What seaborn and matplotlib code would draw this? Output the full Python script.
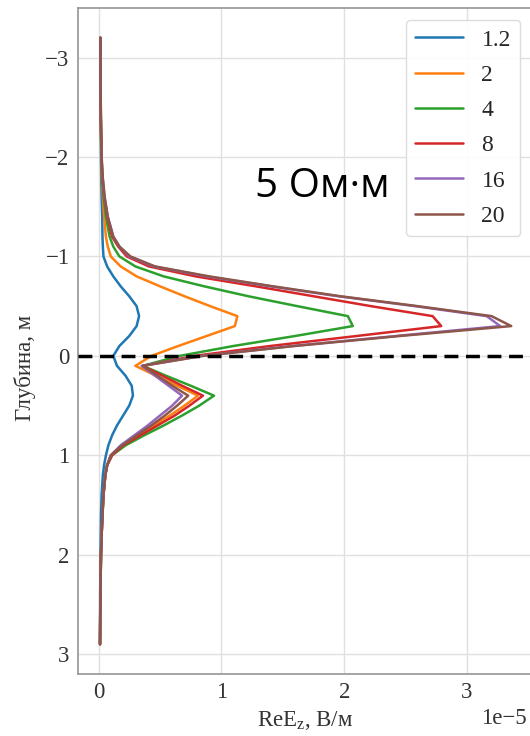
import matplotlib
matplotlib.use("Agg")
import matplotlib.pyplot as plt
import numpy as np
import pandas as pd
import seaborn as sns

# Depth grid (m), negative = above the source
depth = [-3.2, -2.8, -2.4, -2.0, -1.8, -1.6, -1.4, -1.2, -1.1, -1.0,
         -0.9, -0.8, -0.7, -0.6, -0.5, -0.4, -0.3, -0.2, -0.1, 0.0,
         0.1, 0.2, 0.3, 0.4, 0.5, 0.6, 0.7, 0.8, 0.9, 1.0,
         1.1, 1.2, 1.4, 1.6, 1.8, 2.0, 2.4, 2.9]

# Re Ez, units of 1e-5 V/m, one profile per resistivity value
ez_1_2 = [0.015, 0.016, 0.018, 0.02, 0.022, 0.025, 0.03, 0.032, 0.035, 0.04,
          0.07, 0.12, 0.18, 0.25, 0.31, 0.33, 0.31, 0.25, 0.17, 0.12,
          0.15, 0.22, 0.27, 0.28, 0.25, 0.20, 0.15, 0.11, 0.08, 0.06,
          0.045, 0.035, 0.025, 0.02, 0.018, 0.016, 0.013, 0.012]
ez_2 = [0.015, 0.016, 0.018, 0.022, 0.027, 0.035, 0.045, 0.06, 0.075, 0.10,
        0.18, 0.31, 0.50, 0.70, 0.91, 1.13, 1.11, 0.88, 0.65, 0.43,
        0.30, 0.47, 0.64, 0.81, 0.70, 0.58, 0.45, 0.32, 0.19, 0.10,
        0.07, 0.055, 0.04, 0.032, 0.025, 0.02, 0.015, 0.012]
ez_4 = [0.015, 0.016, 0.018, 0.023, 0.029, 0.04, 0.06, 0.09, 0.12, 0.17,
        0.30, 0.53, 0.86, 1.22, 1.62, 2.03, 2.07, 1.60, 1.10, 0.66,
        0.36, 0.55, 0.75, 0.94, 0.82, 0.68, 0.53, 0.37, 0.22, 0.11,
        0.07, 0.055, 0.04, 0.032, 0.025, 0.02, 0.015, 0.012]
ez_8 = [0.015, 0.016, 0.019, 0.024, 0.031, 0.045, 0.07, 0.11, 0.16, 0.23,
        0.41, 0.79, 1.28, 1.75, 2.22, 2.72, 2.79, 2.10, 1.40, 0.78,
        0.36, 0.52, 0.68, 0.85, 0.74, 0.62, 0.48, 0.34, 0.20, 0.11,
        0.07, 0.055, 0.04, 0.032, 0.025, 0.02, 0.015, 0.012]
ez_16 = [0.015, 0.016, 0.019, 0.025, 0.033, 0.048, 0.075, 0.12, 0.17, 0.25,
         0.45, 0.88, 1.40, 1.95, 2.58, 3.16, 3.27, 2.42, 1.58, 0.84,
         0.35, 0.46, 0.57, 0.68, 0.60, 0.50, 0.40, 0.29, 0.18, 0.10,
         0.07, 0.055, 0.04, 0.032, 0.025, 0.02, 0.015, 0.012]
ez_20 = [0.015, 0.016, 0.019, 0.025, 0.034, 0.05, 0.075, 0.12, 0.17, 0.26,
         0.46, 0.90, 1.42, 1.97, 2.60, 3.20, 3.36, 2.45, 1.60, 0.85,
         0.36, 0.48, 0.60, 0.73, 0.64, 0.54, 0.43, 0.31, 0.19, 0.10,
         0.07, 0.055, 0.04, 0.032, 0.025, 0.02, 0.015, 0.012]

series_labels = ["1.2", "2", "4", "8", "16", "20"]
series_values = [ez_1_2, ez_2, ez_4, ez_8, ez_16, ez_20]

frames = []
for lab, vals in zip(series_labels, series_values):
    frames.append(pd.DataFrame({"depth": depth,
                                "ez": np.array(vals) * 1e-5,
                                "rho": lab}))
df = pd.concat(frames, ignore_index=True)

sns.set_theme(style="whitegrid")
plt.rcParams["font.family"] = ["Liberation Serif", "DejaVu Serif"]
plt.rcParams["mathtext.default"] = "regular"
plt.rcParams["axes.edgecolor"] = "0.6"
plt.rcParams["grid.color"] = "0.88"

fig = plt.figure(figsize=(5.3, 7.36), dpi=100)
ax = fig.add_axes([0.147, 0.0842, 0.857, 0.905])

sns.lineplot(data=df, x="ez", y="depth", hue="rho", hue_order=series_labels,
             palette="tab10", sort=False, estimator=None, linewidth=1.8,
             ax=ax)

ax.axhline(0, color="black", linestyle=(0, (4, 2.2)), linewidth=2.5, zorder=5)

ax.set_xlim(-0.168e-5, 3.53e-5)
ax.set_ylim(3.2, -3.5)
ax.set_xticks([0, 1e-5, 2e-5, 3e-5])
ax.set_yticks([-3, -2, -1, 0, 1, 2, 3])

ax.tick_params(axis="both", labelsize=16.5, length=3, color="0.6",
               labelcolor="0.2", pad=3)
offset = ax.xaxis.get_offset_text()
offset.set_family(["Liberation Serif", "DejaVu Serif"])
offset.set_fontsize(16.5)
offset.set_color("0.2")
offset.set_x(0.987)

ax.set_xlabel(r"ReE$_z$, В/м", fontsize=16.5, color="0.2")
ax.set_ylabel("Глубина, м", fontsize=16.5, color="0.2")
ax.yaxis.set_label_coords(-0.092, 0.46)

ax.text(0.39, 0.732, "5 Ом·м", transform=ax.transAxes, fontsize=29,
        family=["Open Sans", "DejaVu Sans"], va="center", ha="left",
        color="black", zorder=6)

leg = ax.legend(loc="upper right", fontsize=17, frameon=True,
                edgecolor="0.85", framealpha=0.9, title=None,
                labelspacing=0.58)
for line in leg.get_lines():
    line.set_linewidth(1.8)

fig.savefig("out.png", dpi=100)
